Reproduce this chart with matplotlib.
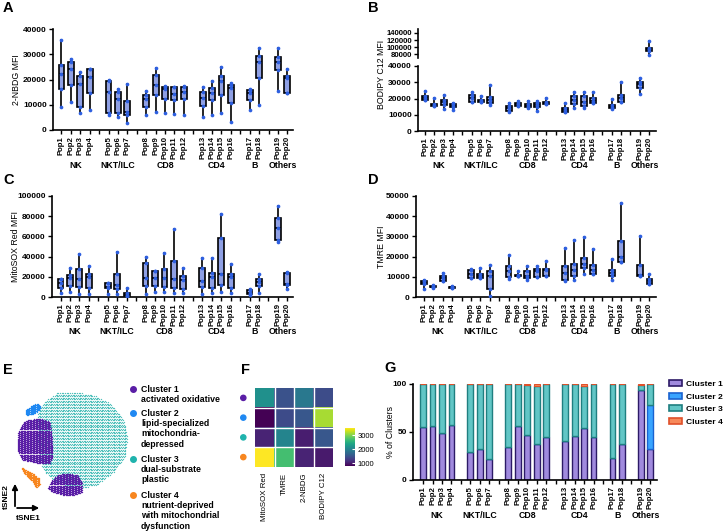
import numpy as np
import matplotlib
matplotlib.use('Agg')
import matplotlib.pyplot as plt
from matplotlib.path import Path
from matplotlib.patches import Patch

plt.rcParams['font.family'] = ['Liberation Sans', 'DejaVu Sans']

W, H = 726, 531

# ---- shared categories
pops = ['Pop%d' % i for i in range(1, 21)]
pos = [0, 1, 2, 3, 5, 6, 7, 9, 10, 11, 12, 13, 15, 16, 17, 18, 20, 21, 23, 24]
gaps = [4, 8, 14, 19, 22]
groups = ['NK', 'NKT/ILC', 'CD8', 'CD4', 'B', 'Others']
group_mid = [1.5, 6, 11, 16.5, 20.5, 23.5]

# ---- A: 2-NBDG MFI (min, q1, median, q3, max)
nbdg_lo = [9200, 11200, 6800, 7800, 5800, 5200, 2800, 6100, 7000, 6900, 6400, 5800, 5200, 5800, 6900, 3200, 7800, 10000, 15400, 14800]
nbdg_q1 = [16100, 18000, 9000, 14800, 6800, 6800, 6100, 9200, 13700, 12100, 11700, 12200, 9700, 12000, 13800, 10500, 12000, 20700, 23800, 14800]
nbdg_med = [22300, 24000, 18300, 21000, 15000, 12400, 7200, 12100, 17700, 16100, 14100, 15000, 12500, 14500, 19400, 16500, 14800, 27000, 27100, 20500]
nbdg_q3 = [25800, 27100, 21500, 24000, 19400, 15200, 11400, 13700, 21800, 17000, 17000, 17100, 15000, 16500, 21400, 17700, 16000, 29400, 29000, 21400]
nbdg_hi = [35600, 28000, 23100, 24300, 19700, 16100, 18100, 15400, 24700, 17400, 17100, 17300, 17000, 19300, 25100, 18700, 16100, 32400, 32300, 24300]

# ---- B: BODIPY C12 MFI
bod_lo = [18900, 15400, 13300, 12900, 17600, 17600, 16000, 11500, 15400, 13900, 12300, 16600, 11500, 14400, 13900, 17000, 13300, 17600, 22600, 79500]
bod_q1 = [18900, 15400, 16000, 14600, 18000, 17600, 17400, 12500, 15400, 14600, 14600, 16600, 11500, 16600, 15600, 17000, 13900, 18000, 26700, 88400]
bod_med = [20500, 16000, 18000, 15400, 20500, 18500, 19100, 14400, 16400, 15600, 16000, 17400, 12900, 19100, 17600, 18700, 15000, 20100, 28900, 94700]
bod_q3 = [21500, 16600, 19100, 16400, 22200, 19100, 21100, 15400, 17400, 16600, 17000, 18000, 13900, 21500, 21500, 20500, 16000, 22200, 30400, 99100]
bod_hi = [24800, 20500, 22200, 17400, 24200, 21500, 28300, 17000, 18500, 18500, 18500, 20100, 17000, 23800, 24200, 23800, 19700, 29900, 32400, 116900]

# ---- C: MitoSOX Red MFI
mito_lo = [4300, 5300, 2600, 2600, 3000, 3000, 1000, 3000, 4600, 4600, 4300, 4300, 3000, 4300, 5300, 4300, 2000, 4300, 54800, 7900]
mito_q1 = [8600, 10900, 10200, 9200, 8600, 7600, 1000, 10900, 11200, 9600, 8600, 7900, 10200, 8600, 11900, 9200, 3000, 11200, 56400, 11900]
mito_med = [13500, 18500, 17500, 19500, 10200, 11900, 2000, 18500, 18500, 18500, 17500, 16800, 16200, 19500, 22800, 19500, 4300, 15200, 68600, 12500]
mito_q3 = [17800, 21800, 27700, 22400, 13500, 22400, 4300, 33300, 25700, 27700, 35600, 21100, 28400, 24100, 58100, 22800, 6900, 17800, 77900, 24100]
mito_hi = [17800, 28400, 42200, 30700, 13500, 44200, 8600, 39900, 25700, 43200, 67300, 28400, 38900, 38900, 81800, 32700, 7600, 22400, 90100, 25100]

# ---- D: TMRE MFI
tmre_lo = [3800, 4600, 7900, 4300, 9500, 9200, 500, 8700, 10400, 8400, 9700, 10400, 8100, 8400, 11200, 11200, 8400, 17200, 10400, 6300]
tmre_q1 = [6300, 4800, 7900, 4300, 9500, 9200, 3800, 10100, 10400, 9600, 10100, 10400, 8400, 10400, 14500, 11200, 10400, 17200, 10400, 6300]
tmre_med = [7100, 5100, 9200, 5000, 11500, 10400, 10400, 12900, 10400, 10400, 12900, 13400, 11700, 13400, 16300, 13400, 11700, 20000, 11000, 8100]
tmre_q3 = [8100, 5600, 10600, 5100, 13400, 11200, 12900, 15300, 10900, 12900, 13900, 13900, 15300, 16200, 19100, 15800, 13400, 27700, 15800, 8700]
tmre_hi = [8400, 5900, 12000, 5400, 13900, 14500, 15800, 20800, 12900, 15300, 15300, 18000, 24400, 28200, 29500, 23800, 18600, 46400, 30200, 11200]

# ---- F: heatmap
hm_cols = ['MitoSOX Red', 'TMRE', '2-NBDG', 'BODIPY C12']
hm_vals = [[2150, 1480, 1880, 1430],
           [800, 1420, 1530, 3150],
           [1070, 2020, 1020, 1530],
           [3500, 2690, 1070, 990]]

# ---- G: % of clusters
c1 = [55, 56, 48.5, 57.5, 29.5, 32.5, 21.5, 34.5, 56.5, 46.5, 37.5, 45, 40.5, 45.5, 54, 44.8, 22.5, 37.2, 93.4, 32]
c2 = [0, 0, 0, 0, 0, 0, 0, 0, 0, 0, 0, 0, 0, 0, 0, 0, 0, 0, 0, 46]
c3 = [45, 44, 51.5, 42.5, 70.5, 67.5, 78.5, 65.5, 43.5, 52.5, 60.5, 54.5, 59.5, 54.5, 43.5, 55.2, 77.5, 62.8, 5.6, 22]
c4 = [0, 0, 0, 0, 0, 0, 0, 0, 0, 1, 2, 0.5, 0, 0, 2.5, 0, 0, 0, 1, 0]

# ---- E: tSNE cluster outlines (pixel space)
teal_x = [43, 57, 73, 93, 110, 123, 128, 125, 113, 97, 83, 67, 53, 43, 40, 38, 37, 38]
teal_y = [403, 393, 392, 395, 403, 418, 437, 457, 473, 485, 488, 487, 480, 470, 460, 447, 427, 410]
purA_x = [27, 40, 50, 52, 53, 50, 37, 23, 17, 18, 23]
purA_y = [420, 418, 422, 437, 457, 463, 463, 460, 450, 433, 423]
purB_x = [50, 57, 67, 77, 82, 82, 75, 63, 53, 47]
purB_y = [483, 475, 473, 475, 483, 492, 495, 495, 492, 488]
blue_x = [25, 32, 38, 41, 37, 30, 26]
blue_y = [410, 405, 403, 407, 412, 415, 416]
oran_x = [21, 27, 33, 39, 40, 36, 33, 28, 23]
oran_y = [467, 470, 473, 478, 485, 488, 483, 477, 472]

cl_names = ['Cluster 1', 'Cluster 2', 'Cluster 3', 'Cluster 4']
cl_desc = [['activated oxidative'],
           ['lipid-specialized', 'mitochondria-', 'depressed'],
           ['dual-substrate', 'plastic'],
           ['nutrient-deprived', 'with mitochondrial', 'dysfunction']]
cl_colors = ['#5a1ea6', '#1f88f2', '#1fb3ad', '#f7861f']

BOXFILL = '#8fa0e4'
DOT = '#2d5fe0'

fig = plt.figure(figsize=(W / 100, H / 100), dpi=100)


def px_axes(l, t, r, b):
    return fig.add_axes([l / W, 1 - b / H, (r - l) / W, (b - t) / H])


def ftext(x, y, s, **kw):
    fig.text(x / W, 1 - y / H, s, **kw)


def draw_boxes(ax, lo, q1, med, q3, hi):
    stats = [dict(whislo=a, q1=b, med=c, q3=d, whishi=e, fliers=[])
             for a, b, c, d, e in zip(lo, q1, med, q3, hi)]
    ax.bxp(stats, positions=pos, widths=0.62, showfliers=False, showcaps=False,
           patch_artist=True,
           boxprops=dict(facecolor=BOXFILL, edgecolor='black', linewidth=1.2),
           medianprops=dict(color='black', linewidth=1.2),
           whiskerprops=dict(color='black', linewidth=1.2))
    for p, vals in zip(pos, zip(lo, q1, med, q3, hi)):
        ax.scatter([p] * 5, vals, s=7, color=DOT, zorder=4, linewidths=0)


def style_y(ax, ylim, yticks, fs=6):
    ax.set_ylim(ylim)
    ax.set_yticks(yticks)
    ax.set_yticklabels([str(v) for v in yticks], fontsize=fs, fontweight='bold')
    ax.tick_params(axis='y', length=3, width=1, pad=1.5)
    ax.spines['left'].set_linewidth(1.2)


def style_x(ax, xlim, goff=35):
    ax.set_xlim(xlim)
    ax.set_xticks(pos)
    ax.set_xticklabels(pops, rotation=90, fontsize=5.6, fontweight='bold')
    ax.set_xticks(gaps, minor=True)
    ax.tick_params(axis='x', which='both', length=3, width=1, pad=1.5)
    for m, g in zip(group_mid, groups):
        ax.annotate(g, xy=(m, 0), xycoords=('data', 'axes fraction'),
                    xytext=(0, -goff * 0.72), textcoords='offset points',
                    ha='center', va='center', fontsize=6.3, fontweight='bold')
    ax.spines[['top', 'right']].set_visible(False)
    ax.spines['bottom'].set_linewidth(1.2)


# ---- A
axA = px_axes(53, 29, 293, 130)
draw_boxes(axA, nbdg_lo, nbdg_q1, nbdg_med, nbdg_q3, nbdg_hi)
style_y(axA, (0, 40000), [0, 10000, 20000, 30000, 40000])
style_x(axA, (-0.9, 24.6))
axA.set_ylabel('2-NBDG MFI', fontsize=6.3)
axA.yaxis.set_label_coords(-0.133, 0.5)

# ---- B (broken axis)
axB = px_axes(418, 66, 656, 131)
draw_boxes(axB, bod_lo, bod_q1, bod_med, bod_q3, bod_hi)
style_y(axB, (0, 40000), [0, 10000, 20000, 30000, 40000])
style_x(axB, (-0.75, 24.75), goff=34)
axBt = px_axes(418, 29, 656, 58)
draw_boxes(axBt, bod_lo, bod_q1, bod_med, bod_q3, bod_hi)
style_y(axBt, (70000, 151000), [80000, 100000, 120000, 140000], fs=5.6)
axBt.set_xlim(-0.75, 24.75)
axBt.set_xticks([])
axBt.spines[['top', 'right', 'bottom']].set_visible(False)
ftext(382, 74, 'BODIPY C12 MFI', rotation=90, fontsize=6.3, ha='center', va='center')

# ---- C
axC = px_axes(52, 196, 293, 297)
draw_boxes(axC, mito_lo, mito_q1, mito_med, mito_q3, mito_hi)
style_y(axC, (0, 100000), [0, 20000, 40000, 60000, 80000, 100000])
style_x(axC, (-0.9, 24.6))
axC.set_ylabel('MitoSOX Red MFI', fontsize=6.3)
axC.yaxis.set_label_coords(-0.133, 0.5)

# ---- D
axD = px_axes(416, 196, 656, 297)
draw_boxes(axD, tmre_lo, tmre_q1, tmre_med, tmre_q3, tmre_hi)
style_y(axD, (0, 50000), [0, 10000, 20000, 30000, 40000, 50000])
style_x(axD, (-0.85, 24.7))
axD.set_ylabel('TMRE MFI', fontsize=6.3)
axD.yaxis.set_label_coords(-0.125, 0.5)

# ---- E: tSNE
axE = px_axes(0, 380, 135, 530)
axE.axis('off')


def lattice_fill(xs, ys, step, color, s):
    gx, gy = np.meshgrid(np.arange(min(xs), max(xs), step),
                         np.arange(min(ys), max(ys), step * 0.87))
    gx = gx + (np.arange(gx.shape[0])[:, None] % 2) * step / 2
    pts = np.column_stack([gx.ravel(), gy.ravel()])
    inside = Path(np.column_stack([xs, ys])).contains_points(pts)
    axE.scatter(pts[inside, 0], pts[inside, 1], s=s, color=color, linewidths=0)


lattice_fill(teal_x, teal_y, 1.7, '#4fc0bc', 0.9)
lattice_fill(purA_x, purA_y, 1.2, cl_colors[0], 1.0)
lattice_fill(purB_x, purB_y, 1.2, cl_colors[0], 1.0)
lattice_fill(blue_x, blue_y, 1.1, cl_colors[1], 1.0)
lattice_fill(oran_x, oran_y, 1.1, cl_colors[3], 1.0)
axE.annotate('', xy=(15, 481), xytext=(15, 509),
             arrowprops=dict(arrowstyle='-|>', lw=1.3, color='black', mutation_scale=8))
axE.annotate('', xy=(42, 508), xytext=(14.3, 508),
             arrowprops=dict(arrowstyle='-|>', lw=1.3, color='black', mutation_scale=8))
axE.set_xlim(0, 135)
axE.set_ylim(530, 380)
ftext(6, 497, 'tSNE2', rotation=90, fontsize=6, fontweight='bold', ha='center', va='center')
ftext(28, 518, 'tSNE1', fontsize=6, fontweight='bold', ha='center', va='center')

# legend of E
leg_y = [389, 413, 459, 495]
for name, desc, col, y in zip(cl_names, cl_desc, cl_colors, leg_y):
    fig.lines.append(plt.Line2D([133 / W], [1 - y / H], marker='o', markersize=4,
                                color=col, transform=fig.transFigure))
    ftext(141, y, name, fontsize=6.3, fontweight='bold', va='center')
    for k, line in enumerate(desc):
        ftext(141, y + 10.5 * (k + 1), line, fontsize=6.3, fontweight='bold', va='center')

# ---- F: heatmap
axF = px_axes(255, 388, 333, 467)
im = axF.imshow(hm_vals, cmap='viridis', aspect='auto')
for k in range(1, 4):
    axF.axhline(k - 0.5, color='white', lw=1)
    axF.axvline(k - 0.5, color='white', lw=1)
axF.scatter([-1.1] * 4, range(4), s=14, color=cl_colors, clip_on=False)
axF.set_xlim(-0.5, 3.5)
axF.set_ylim(3.5, -0.5)
axF.set_xticks(range(4))
axF.set_xticklabels(hm_cols, rotation=90, fontsize=5.7)
axF.set_yticks([])
axF.tick_params(axis='x', length=0, pad=4)
for sp in axF.spines.values():
    sp.set_visible(False)
cax = px_axes(345, 428, 355, 466)
cb = fig.colorbar(im, cax=cax, ticks=[1000, 2000, 3000])
cb.outline.set_visible(False)
cax.tick_params(labelsize=5.5, length=2, color='white', direction='in', pad=2)

# ---- G: stacked bars
axG = px_axes(413, 384, 657, 480)
bw = 0.62
b2 = np.array(c1)
b3 = b2 + np.array(c2)
b4 = b3 + np.array(c3)
axG.bar(pos, c1, bw, color='#a08ade', edgecolor='#2c1a66', lw=1.0, label='Cluster 1')
axG.bar(pos, c2, bw, bottom=b2, color='#38a4ff', edgecolor='#1a62d0', lw=1.0, label='Cluster 2')
axG.bar(pos, c3, bw, bottom=b3, color='#62c6c6', edgecolor='#1f7f80', lw=1.0, label='Cluster 3')
axG.bar(pos, c4, bw, bottom=b4, color='#f7895a', edgecolor='#e0502a', lw=0.8, label='Cluster 4')
style_y(axG, (0, 100), [0, 50, 100])
style_x(axG, (-1.06, 24.7), goff=36)
axG.set_ylabel('% of Clusters', fontsize=6.3)
axG.yaxis.set_label_coords(-0.074, 0.5)
handles = [Patch(facecolor='#a08ade', edgecolor='#2c1a66', lw=1.2),
           Patch(facecolor='#38a4ff', edgecolor='#1a62d0', lw=1.2),
           Patch(facecolor='#62c6c6', edgecolor='#1f7f80', lw=1.2),
           Patch(facecolor='#f7895a', edgecolor='#e0502a', lw=1.2)]
fig.legend(handles, cl_names, loc='upper left', bbox_to_anchor=(669 / W, 1 - 380 / H),
           frameon=False, prop=dict(size=6.1, weight='bold'), handlelength=1.5,
           handleheight=0.7, handletextpad=0.45, labelspacing=0.55, borderpad=0,
           borderaxespad=0)

# ---- panel letters
for letter, x, y in [('A', 3, 8), ('B', 368, 8), ('C', 3, 180), ('D', 368, 180),
                     ('E', 3, 370), ('F', 241, 370), ('G', 384, 368)]:
    ftext(x, y, letter, fontsize=10.5, fontweight='bold', va='center')

fig.savefig('out.png', dpi=100)
